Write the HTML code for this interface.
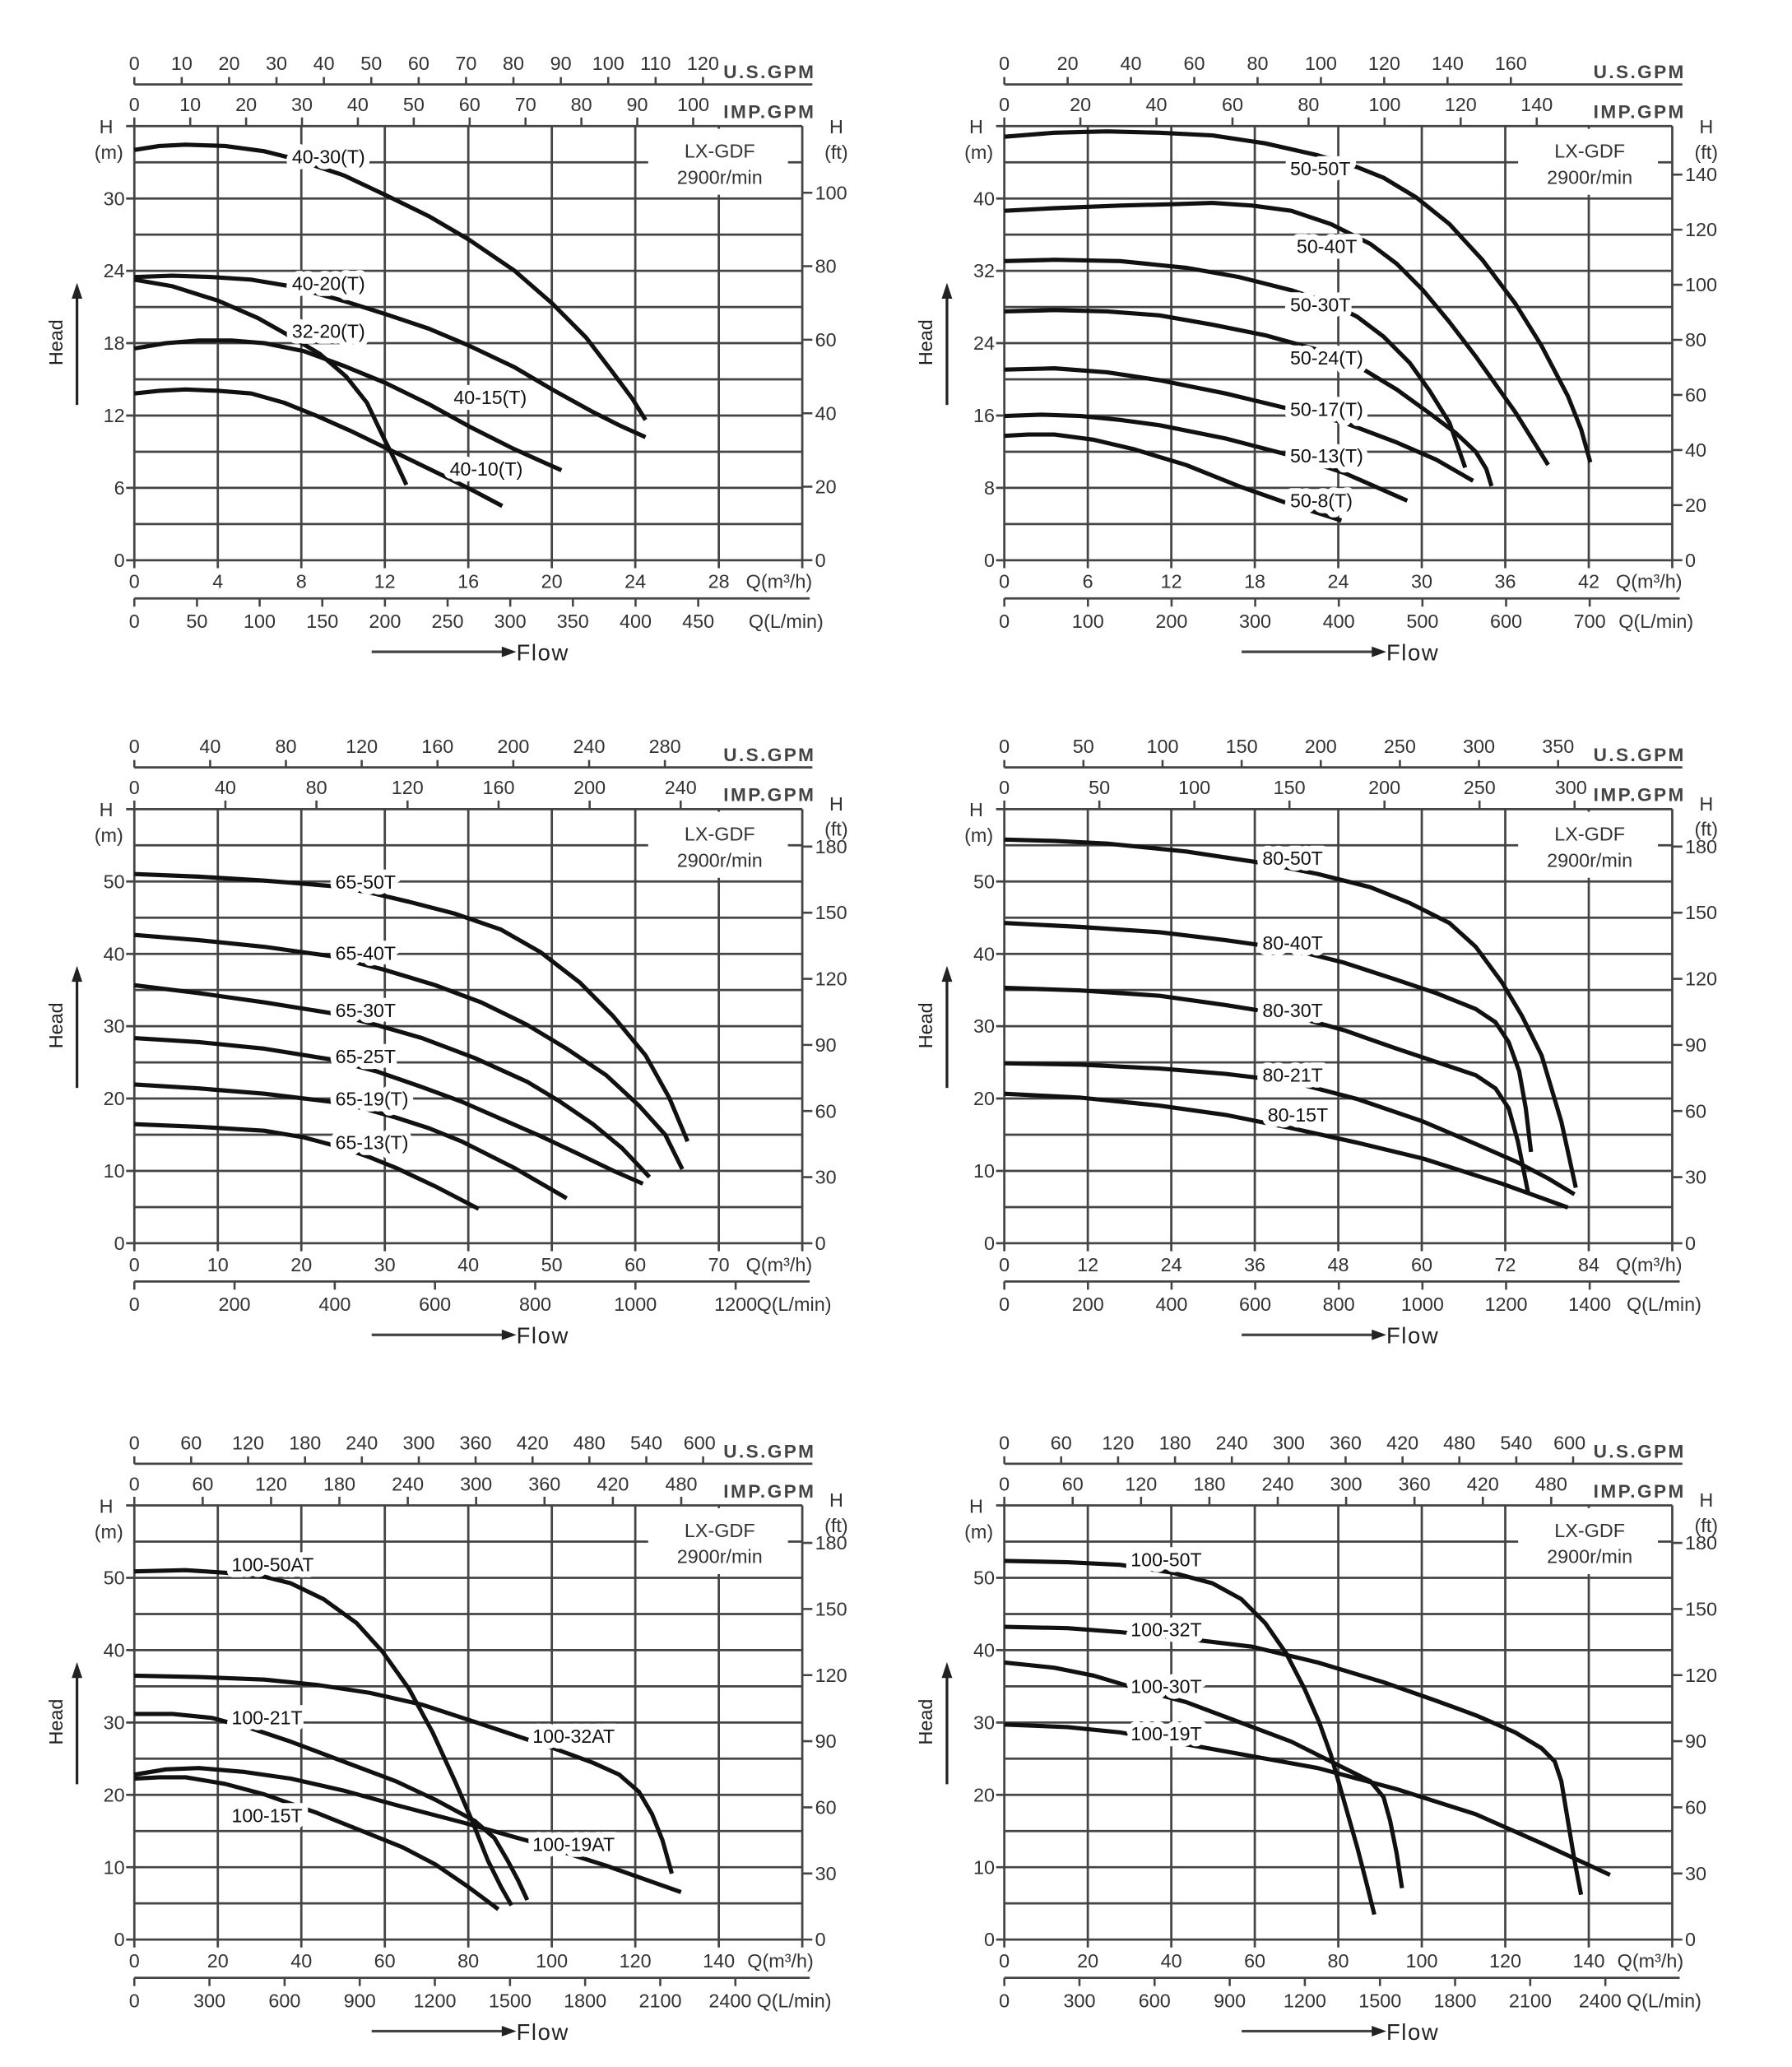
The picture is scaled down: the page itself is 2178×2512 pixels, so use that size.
<!DOCTYPE html>
<html><head><meta charset="utf-8"><style>
html,body{margin:0;padding:0;background:#fff}
svg{display:block}
text{font-family:"Liberation Sans",sans-serif;font-size:14.5px;fill:#333}
.m{text-anchor:middle}.e{text-anchor:end}
.u{font-weight:bold;font-size:14px;fill:#444}
.cl{fill:#111;paint-order:stroke;stroke:#fff;stroke-width:9px;stroke-linejoin:round}
.cv{fill:none;stroke:#111;stroke-width:3.2;stroke-linejoin:round;stroke-linecap:butt}
</style></head><body>
<svg width="2178" height="2512" viewBox="0 0 1350 1557" preserveAspectRatio="none" xmlns="http://www.w3.org/2000/svg">
<defs>
<g id="frame">
<path stroke="#444" stroke-width="1.7" fill="none" d="M101.2 95V428M164.1 95V428M227 95V428M289.9 95V428M352.8 95V428M415.7 95V428M478.6 95V428M541.5 95V428M604.4 95V428
M95 95H604.4M101.2 122.25H604.4M95 149.5H604.4M101.2 176.75H604.4M95 204H604.4M101.2 231.25H604.4M95 258.5H604.4M101.2 285.75H604.4M95 313H604.4M101.2 340.25H604.4M95 367.5H604.4M101.2 394.75H604.4M95 422H604.4
M101.2 63.6H612M101.2 450.8H610"/>
<rect x="488.3" y="97" width="105.3" height="49.7" fill="#fff"/>
<path stroke="#444" stroke-width="2" d="M280 491H379"/>
<polygon points="378,487 389,491 378,495" fill="#222"/>
<path stroke="#222" stroke-width="2" d="M58 305V222"/>
<polygon points="54,225 58,213 62,225" fill="#222"/>
</g>
</defs>

<!-- ============ CHART 1 ============ -->
<g>
<use href="#frame"/>
<path stroke="#444" stroke-width="1.6" d="M101.2 58V63.6M136.9 58V63.6M172.6 58V63.6M208.3 58V63.6M244 58V63.6M279.7 58V63.6M315.4 58V63.6M351.1 58V63.6M386.8 58V63.6M422.5 58V63.6M458.2 58V63.6M493.9 58V63.6M529.6 58V63.6
M101.2 88.5V95M143.3 88.5V95M185.4 88.5V95M227.5 88.5V95M269.6 88.5V95M311.7 88.5V95M353.8 88.5V95M395.9 88.5V95M438 88.5V95M480.1 88.5V95M522.2 88.5V95
M101.2 450.8V457M148.4 450.8V457M195.6 450.8V457M242.8 450.8V457M290 450.8V457M337.2 450.8V457M384.4 450.8V457M431.6 450.8V457M478.8 450.8V457M526 450.8V457
M604.4 422H612M604.4 366.6H612M604.4 311.3H612M604.4 255.9H612M604.4 200.5H612M604.4 145.2H612"/>
<text class="m" x="101.2" y="52.7">0</text><text class="m" x="136.9" y="52.7">10</text><text class="m" x="172.6" y="52.7">20</text><text class="m" x="208.3" y="52.7">30</text><text class="m" x="244" y="52.7">40</text><text class="m" x="279.7" y="52.7">50</text><text class="m" x="315.4" y="52.7">60</text><text class="m" x="351.1" y="52.7">70</text><text class="m" x="386.8" y="52.7">80</text><text class="m" x="422.5" y="52.7">90</text><text class="m" x="458.2" y="52.7">100</text><text class="m" x="493.9" y="52.7">110</text><text class="m" x="529.6" y="52.7">120</text>
<text class="u" x="545" y="59" textLength="68">U.S.GPM</text>
<text class="m" x="101.2" y="83.7">0</text><text class="m" x="143.3" y="83.7">10</text><text class="m" x="185.4" y="83.7">20</text><text class="m" x="227.5" y="83.7">30</text><text class="m" x="269.6" y="83.7">40</text><text class="m" x="311.7" y="83.7">50</text><text class="m" x="353.8" y="83.7">60</text><text class="m" x="395.9" y="83.7">70</text><text class="m" x="438" y="83.7">80</text><text class="m" x="480.1" y="83.7">90</text><text class="m" x="522.2" y="83.7">100</text>
<text class="u" x="545" y="89" textLength="68">IMP.GPM</text>
<text class="m" x="80" y="100.5">H</text><text class="m" x="82" y="119.7">(m)</text>
<text class="m" x="630" y="100.5">H</text><text class="m" x="630" y="119.7">(ft)</text>
<text class="m" x="542.2" y="118.8">LX-GDF</text><text class="m" x="542.2" y="138.4">2900r/min</text>
<text class="e" x="94" y="154.5">30</text><text class="e" x="94" y="209">24</text><text class="e" x="94" y="263.5">18</text><text class="e" x="94" y="318">12</text><text class="e" x="94" y="372.5">6</text><text class="e" x="94" y="427">0</text>
<text x="614" y="427">0</text><text x="614" y="371.6">20</text><text x="614" y="316.3">40</text><text x="614" y="260.9">60</text><text x="614" y="205.5">80</text><text x="614" y="150.2">100</text>
<text class="m" x="101.2" y="443">0</text><text class="m" x="164.1" y="443">4</text><text class="m" x="227" y="443">8</text><text class="m" x="289.9" y="443">12</text><text class="m" x="352.8" y="443">16</text><text class="m" x="415.7" y="443">20</text><text class="m" x="478.6" y="443">24</text><text class="m" x="541.5" y="443">28</text>
<text x="562" y="443">Q(m³/h)</text>
<text class="m" x="101.2" y="473">0</text><text class="m" x="148.4" y="473">50</text><text class="m" x="195.6" y="473">100</text><text class="m" x="242.8" y="473">150</text><text class="m" x="290" y="473">200</text><text class="m" x="337.2" y="473">250</text><text class="m" x="384.4" y="473">300</text><text class="m" x="431.6" y="473">350</text><text class="m" x="478.8" y="473">400</text><text class="m" x="526" y="473">450</text>
<text x="564" y="473">Q(L/min)</text>
<text x="389" y="497.5" style="font-size:17px;fill:#222;letter-spacing:1px">Flow</text>
<text class="m" transform="translate(47,258) rotate(-90)" style="fill:#222">Head</text>
</g>
<g transform="translate(101.2,95) scale(0.99,0.997) translate(-101,-96)">
<polyline class="cv" points="101,114 120,111 140,110 170,111 200,115 220,120 260,133 292,148 325,164 356,182 390,205 419,230 445,256 465,282 480,302 490,318"/>
<polyline class="cv" points="101,210 130,209 160,210 190,212 220,217 260,228 292,238 325,249 356,262 390,278 419,295 450,312 470,322 490,331"/>
<polyline class="cv" points="101,212 130,217 165,228 195,241 220,255 242,268 262,285 278,305 290,330 300,350 308,367"/>
<polyline class="cv" points="101,264 125,260 150,258 175,258 200,260 230,266 260,277 292,290 325,306 356,323 390,340 426,356"/>
<polyline class="cv" points="101,298 120,296 140,295 165,296 190,298 215,305 240,315 265,326 290,338 315,350 340,362 360,372 381,383"/>
<text class="cl" x="221" y="124">40-30(T)</text>
<text class="cl" x="221" y="220">40-20(T)</text>
<text class="cl" x="221" y="256">32-20(T)</text>
<text class="cl" x="344" y="306">40-15(T)</text>
<text class="cl" x="341" y="360">40-10(T)</text>
</g>

<!-- ============ CHART 2 ============ -->
<g transform="translate(655.4,0)">
<use href="#frame"/>
<path stroke="#444" stroke-width="1.6" d="M101.2 58V63.6M148.9 58V63.6M196.6 58V63.6M244.3 58V63.6M292 58V63.6M339.7 58V63.6M387.4 58V63.6M435.1 58V63.6M482.8 58V63.6
M101.2 88.5V95M158.5 88.5V95M215.8 88.5V95M273.1 88.5V95M330.4 88.5V95M387.7 88.5V95M445 88.5V95M502.3 88.5V95
M101.2 450.8V457M164.2 450.8V457M227.2 450.8V457M290.2 450.8V457M353.2 450.8V457M416.2 450.8V457M479.2 450.8V457M542.2 450.8V457
M604.4 422H612M604.4 380.5H612M604.4 339H612M604.4 297.5H612M604.4 256H612M604.4 214.5H612M604.4 173H612M604.4 131.5H612"/>
<text class="m" x="101.2" y="52.7">0</text><text class="m" x="148.9" y="52.7">20</text><text class="m" x="196.6" y="52.7">40</text><text class="m" x="244.3" y="52.7">60</text><text class="m" x="292" y="52.7">80</text><text class="m" x="339.7" y="52.7">100</text><text class="m" x="387.4" y="52.7">120</text><text class="m" x="435.1" y="52.7">140</text><text class="m" x="482.8" y="52.7">160</text>
<text class="u" x="545" y="59" textLength="68">U.S.GPM</text>
<text class="m" x="101.2" y="83.7">0</text><text class="m" x="158.5" y="83.7">20</text><text class="m" x="215.8" y="83.7">40</text><text class="m" x="273.1" y="83.7">60</text><text class="m" x="330.4" y="83.7">80</text><text class="m" x="387.7" y="83.7">100</text><text class="m" x="445" y="83.7">120</text><text class="m" x="502.3" y="83.7">140</text>
<text class="u" x="545" y="89" textLength="68">IMP.GPM</text>
<text class="m" x="80" y="100.5">H</text><text class="m" x="82" y="119.7">(m)</text>
<text class="m" x="630" y="100.5">H</text><text class="m" x="630" y="119.7">(ft)</text>
<text class="m" x="542.2" y="118.8">LX-GDF</text><text class="m" x="542.2" y="138.4">2900r/min</text>
<text class="e" x="94" y="154.5">40</text><text class="e" x="94" y="209">32</text><text class="e" x="94" y="263.5">24</text><text class="e" x="94" y="318">16</text><text class="e" x="94" y="372.5">8</text><text class="e" x="94" y="427">0</text>
<text x="614" y="427">0</text><text x="614" y="385.5">20</text><text x="614" y="344">40</text><text x="614" y="302.5">60</text><text x="614" y="261">80</text><text x="614" y="219.5">100</text><text x="614" y="178">120</text><text x="614" y="136.5">140</text>
<text class="m" x="101.2" y="443">0</text><text class="m" x="164.1" y="443">6</text><text class="m" x="227" y="443">12</text><text class="m" x="289.9" y="443">18</text><text class="m" x="352.8" y="443">24</text><text class="m" x="415.7" y="443">30</text><text class="m" x="478.6" y="443">36</text><text class="m" x="541.5" y="443">42</text>
<text x="562" y="443">Q(m³/h)</text>
<text class="m" x="101.2" y="473">0</text><text class="m" x="164.2" y="473">100</text><text class="m" x="227.2" y="473">200</text><text class="m" x="290.2" y="473">300</text><text class="m" x="353.2" y="473">400</text><text class="m" x="416.2" y="473">500</text><text class="m" x="479.2" y="473">600</text><text class="m" x="542.2" y="473">700</text>
<text x="564" y="473">Q(L/min)</text>
<text x="389" y="497.5" style="font-size:17px;fill:#222;letter-spacing:1px">Flow</text>
<text class="m" transform="translate(47,258) rotate(-90)" style="fill:#222">Head</text>
</g>
<g transform="translate(756.6,95) scale(0.992,0.997) translate(-762,-96)">
<polyline class="cv" points="762,104 800,101 840,100 880,101 920,103 960,109 1000,118 1030,127 1050,135 1075,150 1100,170 1125,197 1150,230 1170,262 1190,300 1200,325 1207,350"/>
<polyline class="cv" points="762,160 800,158 850,156 890,155 920,154 950,156 980,160 1010,170 1040,185 1060,200 1080,220 1100,244 1120,270 1150,312 1175,352"/>
<polyline class="cv" points="762,198 800,197 850,198 900,203 940,210 980,220 1010,230 1030,240 1050,255 1070,275 1085,296 1100,320 1112,354"/>
<polyline class="cv" points="762,236 800,235 840,236 880,239 920,246 960,254 1000,265 1030,277 1060,295 1085,313 1105,328 1120,342 1128,355 1132,368"/>
<polyline class="cv" points="762,280 800,279 840,282 880,288 930,298 980,310 1020,320 1060,335 1090,348 1118,364"/>
<polyline class="cv" points="762,315 790,314 820,315 850,318 880,322 930,332 980,345 1020,358 1068,379"/>
<polyline class="cv" points="762,330 780,329 800,329 830,333 860,340 900,352 940,368 980,382 1018,394"/>
<text class="cl" x="979" y="133">50-50T</text>
<text class="cl" x="984" y="192">50-40T</text>
<text class="cl" x="979" y="236">50-30T</text>
<text class="cl" x="979" y="276">50-24(T)</text>
<text class="cl" x="979" y="315">50-17(T)</text>
<text class="cl" x="979" y="350">50-13(T)</text>
<text class="cl" x="979" y="384">50-8(T)</text>
</g>

<!-- ============ CHART 3 ============ -->
<g transform="translate(0,514.5)">
<use href="#frame"/>
<path stroke="#444" stroke-width="1.6" d="M101.2 58V63.6M158.3 58V63.6M215.4 58V63.6M272.5 58V63.6M329.6 58V63.6M386.7 58V63.6M443.8 58V63.6M500.9 58V63.6
M101.2 88.5V95M169.8 88.5V95M238.4 88.5V95M307 88.5V95M375.6 88.5V95M444.2 88.5V95M512.8 88.5V95
M101.2 450.8V457M176.7 450.8V457M252.2 450.8V457M327.7 450.8V457M403.2 450.8V457M478.7 450.8V457M554.2 450.8V457
M604.4 422H612M604.4 372.2H612M604.4 322.4H612M604.4 272.6H612M604.4 222.8H612M604.4 173H612M604.4 123.2H612"/>
<text class="m" x="101.2" y="52.7">0</text><text class="m" x="158.3" y="52.7">40</text><text class="m" x="215.4" y="52.7">80</text><text class="m" x="272.5" y="52.7">120</text><text class="m" x="329.6" y="52.7">160</text><text class="m" x="386.7" y="52.7">200</text><text class="m" x="443.8" y="52.7">240</text><text class="m" x="500.9" y="52.7">280</text>
<text class="u" x="545" y="59" textLength="68">U.S.GPM</text>
<text class="m" x="101.2" y="83.7">0</text><text class="m" x="169.8" y="83.7">40</text><text class="m" x="238.4" y="83.7">80</text><text class="m" x="307" y="83.7">120</text><text class="m" x="375.6" y="83.7">160</text><text class="m" x="444.2" y="83.7">200</text><text class="m" x="512.8" y="83.7">240</text>
<text class="u" x="545" y="89" textLength="68">IMP.GPM</text>
<text class="m" x="80" y="100.5">H</text><text class="m" x="82" y="119.7">(m)</text>
<text class="m" x="630" y="96">H</text><text class="m" x="630" y="115">(ft)</text>
<text class="m" x="542.2" y="118.8">LX-GDF</text><text class="m" x="542.2" y="138.4">2900r/min</text>
<text class="e" x="94" y="154.5">50</text><text class="e" x="94" y="209">40</text><text class="e" x="94" y="263.5">30</text><text class="e" x="94" y="318">20</text><text class="e" x="94" y="372.5">10</text><text class="e" x="94" y="427">0</text>
<text x="614" y="427">0</text><text x="614" y="377.2">30</text><text x="614" y="327.4">60</text><text x="614" y="277.6">90</text><text x="614" y="227.8">120</text><text x="614" y="178">150</text><text x="614" y="128.2">180</text>
<text class="m" x="101.2" y="443">0</text><text class="m" x="164.1" y="443">10</text><text class="m" x="227" y="443">20</text><text class="m" x="289.9" y="443">30</text><text class="m" x="352.8" y="443">40</text><text class="m" x="415.7" y="443">50</text><text class="m" x="478.6" y="443">60</text><text class="m" x="541.5" y="443">70</text>
<text x="562" y="443">Q(m³/h)</text>
<text class="m" x="101.2" y="473">0</text><text class="m" x="176.7" y="473">200</text><text class="m" x="252.2" y="473">400</text><text class="m" x="327.7" y="473">600</text><text class="m" x="403.2" y="473">800</text><text class="m" x="478.7" y="473">1000</text><text class="m" x="554.2" y="473">1200</text>
<text x="570" y="473">Q(L/min)</text>
<text x="389" y="497.5" style="font-size:17px;fill:#222;letter-spacing:1px">Flow</text>
<text class="m" transform="translate(47,258) rotate(-90)" style="fill:#222">Head</text>
</g>
<g transform="translate(101.2,609.5) scale(0.99,0.997) translate(-101,-614)">
<polyline class="cv" points="101,663 150,665 200,668 250,672 280,677 310,684 345,693 380,705 410,722 440,745 465,770 490,800 508,832 522,865"/>
<polyline class="cv" points="101,709 150,713 200,718 250,725 290,735 330,747 365,760 400,777 430,795 460,815 485,838 505,860 518,886"/>
<polyline class="cv" points="101,747 150,753 200,760 250,768 285,777 320,787 360,802 400,820 425,835 450,852 472,870 493,892"/>
<polyline class="cv" points="101,787 150,790 200,795 250,803 285,812 320,824 350,835 380,848 410,861 440,875 465,887 488,897"/>
<polyline class="cv" points="101,822 150,825 200,829 250,835 275,840 300,847 325,855 350,865 390,885 430,908"/>
<polyline class="cv" points="101,852 150,854 200,857 230,862 260,870 280,877 300,885 330,899 363,916"/>
<text class="cl" x="254" y="674">65-50T</text>
<text class="cl" x="254" y="728">65-40T</text>
<text class="cl" x="254" y="771">65-30T</text>
<text class="cl" x="254" y="806">65-25T</text>
<text class="cl" x="254" y="838">65-19(T)</text>
<text class="cl" x="254" y="871">65-13(T)</text>
</g>

<!-- ============ CHART 4 ============ -->
<g transform="translate(655.4,514.5)">
<use href="#frame"/>
<path stroke="#444" stroke-width="1.6" d="M101.2 58V63.6M160.8 58V63.6M220.4 58V63.6M280 58V63.6M339.6 58V63.6M399.2 58V63.6M458.8 58V63.6M518.4 58V63.6
M101.2 88.5V95M172.8 88.5V95M244.4 88.5V95M316 88.5V95M387.6 88.5V95M459.2 88.5V95M530.8 88.5V95
M101.2 450.8V457M164.2 450.8V457M227.2 450.8V457M290.2 450.8V457M353.2 450.8V457M416.2 450.8V457M479.2 450.8V457M542.2 450.8V457
M604.4 422H612M604.4 372.2H612M604.4 322.4H612M604.4 272.6H612M604.4 222.8H612M604.4 173H612M604.4 123.2H612"/>
<text class="m" x="101.2" y="52.7">0</text><text class="m" x="160.8" y="52.7">50</text><text class="m" x="220.4" y="52.7">100</text><text class="m" x="280" y="52.7">150</text><text class="m" x="339.6" y="52.7">200</text><text class="m" x="399.2" y="52.7">250</text><text class="m" x="458.8" y="52.7">300</text><text class="m" x="518.4" y="52.7">350</text>
<text class="u" x="545" y="59" textLength="68">U.S.GPM</text>
<text class="m" x="101.2" y="83.7">0</text><text class="m" x="172.8" y="83.7">50</text><text class="m" x="244.4" y="83.7">100</text><text class="m" x="316" y="83.7">150</text><text class="m" x="387.6" y="83.7">200</text><text class="m" x="459.2" y="83.7">250</text><text class="m" x="528" y="83.7">300</text>
<text class="u" x="545" y="89" textLength="68">IMP.GPM</text>
<text class="m" x="80" y="100.5">H</text><text class="m" x="82" y="119.7">(m)</text>
<text class="m" x="630" y="96">H</text><text class="m" x="630" y="115">(ft)</text>
<text class="m" x="542.2" y="118.8">LX-GDF</text><text class="m" x="542.2" y="138.4">2900r/min</text>
<text class="e" x="94" y="154.5">50</text><text class="e" x="94" y="209">40</text><text class="e" x="94" y="263.5">30</text><text class="e" x="94" y="318">20</text><text class="e" x="94" y="372.5">10</text><text class="e" x="94" y="427">0</text>
<text x="614" y="427">0</text><text x="614" y="377.2">30</text><text x="614" y="327.4">60</text><text x="614" y="277.6">90</text><text x="614" y="227.8">120</text><text x="614" y="178">150</text><text x="614" y="128.2">180</text>
<text class="m" x="101.2" y="443">0</text><text class="m" x="164.1" y="443">12</text><text class="m" x="227" y="443">24</text><text class="m" x="289.9" y="443">36</text><text class="m" x="352.8" y="443">48</text><text class="m" x="415.7" y="443">60</text><text class="m" x="478.6" y="443">72</text><text class="m" x="541.5" y="443">84</text>
<text x="562" y="443">Q(m³/h)</text>
<text class="m" x="101.2" y="473">0</text><text class="m" x="164.2" y="473">200</text><text class="m" x="227.2" y="473">400</text><text class="m" x="290.2" y="473">600</text><text class="m" x="353.2" y="473">800</text><text class="m" x="416.2" y="473">1000</text><text class="m" x="479.2" y="473">1200</text><text class="m" x="542.2" y="473">1400</text>
<text x="570" y="473">Q(L/min)</text>
<text x="389" y="497.5" style="font-size:17px;fill:#222;letter-spacing:1px">Flow</text>
<text class="m" transform="translate(47,258) rotate(-90)" style="fill:#222">Head</text>
</g>
<g transform="translate(756.6,609.5) scale(0.992,0.997) translate(-762,-614)">
<polyline class="cv" points="762,637 800,638 840,640 900,646 960,655 1000,663 1040,673 1070,685 1100,700 1120,718 1140,745 1155,770 1170,800 1185,850 1196,900"/>
<polyline class="cv" points="762,700 820,703 880,707 930,713 980,720 1020,730 1060,743 1090,753 1120,765 1135,775 1145,790 1153,812 1158,840 1162,873"/>
<polyline class="cv" points="762,749 820,751 880,755 930,762 980,770 1020,781 1060,795 1090,805 1120,815 1135,825 1145,840 1152,865 1156,885 1160,905"/>
<polyline class="cv" points="762,806 820,807 880,810 930,814 980,820 1030,833 1080,850 1120,867 1150,880 1175,893 1195,905"/>
<polyline class="cv" points="762,829 820,832 880,838 930,845 980,855 1030,866 1080,878 1140,897 1190,915"/>
<text class="cl" x="958" y="656">80-50T</text>
<text class="cl" x="958" y="720">80-40T</text>
<text class="cl" x="958" y="771">80-30T</text>
<text class="cl" x="958" y="820">80-21T</text>
<text class="cl" x="962" y="850">80-15T</text>
</g>

<!-- ============ CHART 5 ============ -->
<g transform="translate(0,1039)">
<use href="#frame"/>
<path stroke="#444" stroke-width="1.6" d="M101.2 58V63.6M144 58V63.6M186.9 58V63.6M229.8 58V63.6M272.6 58V63.6M315.5 58V63.6M358.3 58V63.6M401.2 58V63.6M444 58V63.6M486.9 58V63.6M529.7 58V63.6
M101.2 88.5V95M152.7 88.5V95M204.2 88.5V95M255.7 88.5V95M307.2 88.5V95M358.7 88.5V95M410.2 88.5V95M461.7 88.5V95M513.2 88.5V95
M101.2 450.8V457M157.8 450.8V457M214.4 450.8V457M271 450.8V457M327.6 450.8V457M384.2 450.8V457M440.8 450.8V457M497.4 450.8V457M554 450.8V457
M604.4 422H612M604.4 372.2H612M604.4 322.4H612M604.4 272.6H612M604.4 222.8H612M604.4 173H612M604.4 123.2H612"/>
<text class="m" x="101.2" y="52.7">0</text><text class="m" x="144" y="52.7">60</text><text class="m" x="186.9" y="52.7">120</text><text class="m" x="229.8" y="52.7">180</text><text class="m" x="272.6" y="52.7">240</text><text class="m" x="315.5" y="52.7">300</text><text class="m" x="358.3" y="52.7">360</text><text class="m" x="401.2" y="52.7">420</text><text class="m" x="444" y="52.7">480</text><text class="m" x="486.9" y="52.7">540</text><text class="m" x="527" y="52.7">600</text>
<text class="u" x="545" y="59" textLength="68">U.S.GPM</text>
<text class="m" x="101.2" y="83.7">0</text><text class="m" x="152.7" y="83.7">60</text><text class="m" x="204.2" y="83.7">120</text><text class="m" x="255.7" y="83.7">180</text><text class="m" x="307.2" y="83.7">240</text><text class="m" x="358.7" y="83.7">300</text><text class="m" x="410.2" y="83.7">360</text><text class="m" x="461.7" y="83.7">420</text><text class="m" x="513.2" y="83.7">480</text>
<text class="u" x="545" y="89" textLength="68">IMP.GPM</text>
<text class="m" x="80" y="100.5">H</text><text class="m" x="82" y="119.7">(m)</text>
<text class="m" x="630" y="96">H</text><text class="m" x="630" y="115">(ft)</text>
<text class="m" x="542.2" y="118.8">LX-GDF</text><text class="m" x="542.2" y="138.4">2900r/min</text>
<text class="e" x="94" y="154.5">50</text><text class="e" x="94" y="209">40</text><text class="e" x="94" y="263.5">30</text><text class="e" x="94" y="318">20</text><text class="e" x="94" y="372.5">10</text><text class="e" x="94" y="427">0</text>
<text x="614" y="427">0</text><text x="614" y="377.2">30</text><text x="614" y="327.4">60</text><text x="614" y="277.6">90</text><text x="614" y="227.8">120</text><text x="614" y="178">150</text><text x="614" y="128.2">180</text>
<text class="m" x="101.2" y="443">0</text><text class="m" x="164.1" y="443">20</text><text class="m" x="227" y="443">40</text><text class="m" x="289.9" y="443">60</text><text class="m" x="352.8" y="443">80</text><text class="m" x="415.7" y="443">100</text><text class="m" x="478.6" y="443">120</text><text class="m" x="541.5" y="443">140</text>
<text x="563" y="443">Q(m³/h)</text>
<text class="m" x="101.2" y="473">0</text><text class="m" x="157.8" y="473">300</text><text class="m" x="214.4" y="473">600</text><text class="m" x="271" y="473">900</text><text class="m" x="327.6" y="473">1200</text><text class="m" x="384.2" y="473">1500</text><text class="m" x="440.8" y="473">1800</text><text class="m" x="497.4" y="473">2100</text><text class="m" x="550" y="473">2400</text>
<text x="570" y="473">Q(L/min)</text>
<text x="389" y="497.5" style="font-size:17px;fill:#222;letter-spacing:1px">Flow</text>
<text class="m" transform="translate(47,258) rotate(-90)" style="fill:#222">Head</text>
</g>
<g transform="translate(101.2,1134) scale(0.99,0.994) translate(-101,-1141)">
<polyline class="cv" points="101,1191 140,1190 170,1192 200,1195 220,1200 245,1212 270,1230 290,1252 310,1280 328,1313 345,1350 358,1380 370,1410 380,1430 388,1444"/>
<polyline class="cv" points="101,1270 150,1271 200,1273 240,1277 280,1283 320,1292 360,1305 390,1315 420,1325 450,1336 470,1345 485,1358 495,1375 503,1395 510,1420"/>
<polyline class="cv" points="101,1299 130,1299 160,1302 190,1310 220,1320 260,1335 300,1350 330,1364 360,1380 375,1393 385,1410 393,1425 400,1440"/>
<polyline class="cv" points="101,1345 125,1341 150,1340 185,1343 220,1348 260,1357 300,1368 350,1381 400,1395 460,1414 517,1434"/>
<polyline class="cv" points="101,1348 120,1347 140,1347 170,1352 200,1360 240,1374 280,1390 305,1400 330,1413 355,1430 378,1447"/>
<text class="cl" x="175" y="1191">100-50AT</text>
<text class="cl" x="404" y="1321">100-32AT</text>
<text class="cl" x="175" y="1307">100-21T</text>
<text class="cl" x="404" y="1403">100-19AT</text>
<text class="cl" x="175" y="1381">100-15T</text>
</g>

<!-- ============ CHART 6 ============ -->
<g transform="translate(655.4,1039)">
<use href="#frame"/>
<path stroke="#444" stroke-width="1.6" d="M101.2 58V63.6M144 58V63.6M186.9 58V63.6M229.8 58V63.6M272.6 58V63.6M315.5 58V63.6M358.3 58V63.6M401.2 58V63.6M444 58V63.6M486.9 58V63.6M529.7 58V63.6
M101.2 88.5V95M152.7 88.5V95M204.2 88.5V95M255.7 88.5V95M307.2 88.5V95M358.7 88.5V95M410.2 88.5V95M461.7 88.5V95M513.2 88.5V95
M101.2 450.8V457M157.8 450.8V457M214.4 450.8V457M271 450.8V457M327.6 450.8V457M384.2 450.8V457M440.8 450.8V457M497.4 450.8V457M554 450.8V457
M604.4 422H612M604.4 372.2H612M604.4 322.4H612M604.4 272.6H612M604.4 222.8H612M604.4 173H612M604.4 123.2H612"/>
<text class="m" x="101.2" y="52.7">0</text><text class="m" x="144" y="52.7">60</text><text class="m" x="186.9" y="52.7">120</text><text class="m" x="229.8" y="52.7">180</text><text class="m" x="272.6" y="52.7">240</text><text class="m" x="315.5" y="52.7">300</text><text class="m" x="358.3" y="52.7">360</text><text class="m" x="401.2" y="52.7">420</text><text class="m" x="444" y="52.7">480</text><text class="m" x="486.9" y="52.7">540</text><text class="m" x="527" y="52.7">600</text>
<text class="u" x="545" y="59" textLength="68">U.S.GPM</text>
<text class="m" x="101.2" y="83.7">0</text><text class="m" x="152.7" y="83.7">60</text><text class="m" x="204.2" y="83.7">120</text><text class="m" x="255.7" y="83.7">180</text><text class="m" x="307.2" y="83.7">240</text><text class="m" x="358.7" y="83.7">300</text><text class="m" x="410.2" y="83.7">360</text><text class="m" x="461.7" y="83.7">420</text><text class="m" x="513.2" y="83.7">480</text>
<text class="u" x="545" y="89" textLength="68">IMP.GPM</text>
<text class="m" x="80" y="100.5">H</text><text class="m" x="82" y="119.7">(m)</text>
<text class="m" x="630" y="96">H</text><text class="m" x="630" y="115">(ft)</text>
<text class="m" x="542.2" y="118.8">LX-GDF</text><text class="m" x="542.2" y="138.4">2900r/min</text>
<text class="e" x="94" y="154.5">50</text><text class="e" x="94" y="209">40</text><text class="e" x="94" y="263.5">30</text><text class="e" x="94" y="318">20</text><text class="e" x="94" y="372.5">10</text><text class="e" x="94" y="427">0</text>
<text x="614" y="427">0</text><text x="614" y="377.2">30</text><text x="614" y="327.4">60</text><text x="614" y="277.6">90</text><text x="614" y="227.8">120</text><text x="614" y="178">150</text><text x="614" y="128.2">180</text>
<text class="m" x="101.2" y="443">0</text><text class="m" x="164.1" y="443">20</text><text class="m" x="227" y="443">40</text><text class="m" x="289.9" y="443">60</text><text class="m" x="352.8" y="443">80</text><text class="m" x="415.7" y="443">100</text><text class="m" x="478.6" y="443">120</text><text class="m" x="541.5" y="443">140</text>
<text x="563" y="443">Q(m³/h)</text>
<text class="m" x="101.2" y="473">0</text><text class="m" x="157.8" y="473">300</text><text class="m" x="214.4" y="473">600</text><text class="m" x="271" y="473">900</text><text class="m" x="327.6" y="473">1200</text><text class="m" x="384.2" y="473">1500</text><text class="m" x="440.8" y="473">1800</text><text class="m" x="497.4" y="473">2100</text><text class="m" x="550" y="473">2400</text>
<text x="570" y="473">Q(L/min)</text>
<text x="389" y="497.5" style="font-size:17px;fill:#222;letter-spacing:1px">Flow</text>
<text class="m" transform="translate(47,258) rotate(-90)" style="fill:#222">Head</text>
</g>
<g transform="translate(756.6,1134) scale(0.992,0.994) translate(-762,-1141)">
<polyline class="cv" points="762,1183 810,1184 850,1186 890,1192 920,1200 942,1212 960,1230 976,1253 990,1280 1001,1305 1010,1330 1020,1365 1030,1400 1037,1427 1043,1451"/>
<polyline class="cv" points="762,1233 810,1234 850,1237 900,1242 950,1248 1000,1260 1050,1275 1090,1289 1120,1300 1150,1313 1170,1325 1180,1335 1185,1350 1190,1380 1195,1410 1200,1436"/>
<polyline class="cv" points="762,1260 800,1264 830,1270 870,1282 900,1290 940,1305 980,1320 1010,1335 1040,1350 1050,1362 1055,1380 1060,1405 1064,1431"/>
<polyline class="cv" points="762,1307 810,1309 850,1313 900,1322 950,1331 1000,1340 1060,1356 1120,1375 1170,1397 1222,1421"/>
<text class="cl" x="858" y="1187">100-50T</text>
<text class="cl" x="858" y="1240">100-32T</text>
<text class="cl" x="858" y="1283">100-30T</text>
<text class="cl" x="858" y="1319">100-19T</text>
</g>
</svg>
</body></html>
